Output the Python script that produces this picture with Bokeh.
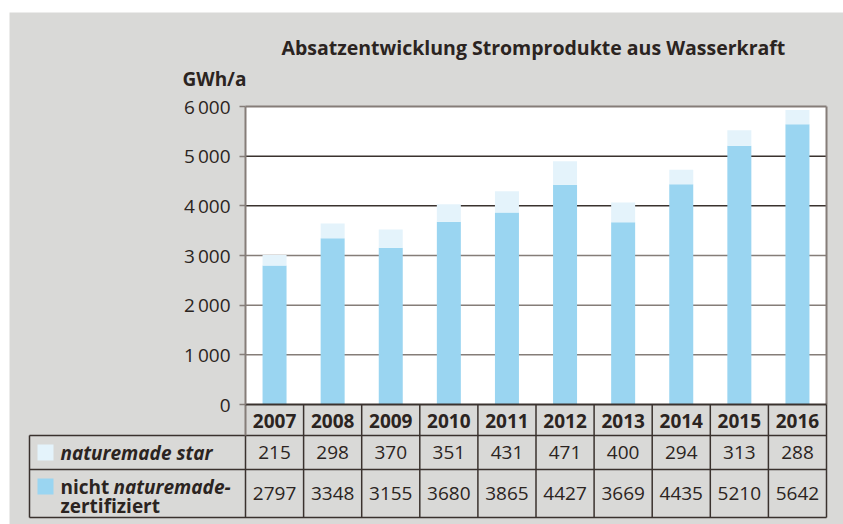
from bokeh.plotting import figure
from bokeh.models import (ColumnDataSource, Range1d, FixedTicker, LinearAxis, Label, Spacer)
from bokeh.layouts import column, row
from bokeh.core.properties import value
from bokeh.embed import file_html
from bokeh.resources import INLINE

# ---------------- data ----------------
years = ["2007", "2008", "2009", "2010", "2011", "2012", "2013", "2014", "2015", "2016"]
star = [215, 298, 370, 351, 431, 471, 400, 294, 313, 288]
nicht = [2797, 3348, 3155, 3680, 3865, 4427, 3669, 4435, 5210, 5642]
y_ticks = [0, 1000, 2000, 3000, 4000, 5000, 6000]
title_text = "Absatzentwicklung Stromprodukte aus Wasserkraft"
unit_text = "GWh/a"
legend_star = "naturemade star"
legend_nicht_1a = "nicht "
legend_nicht_1b = "naturemade-"
legend_nicht_2 = "zertifiziert"

# ---------------- style ----------------
FONT = "Open Sans"
FS = "19px"
BG = "#d9d9d7"
TXT = "#2b2421"
DARK = "#3a322e"
GRAYL = "#857d78"
C_NICHT = "#9ad5f1"
C_STAR = "#e4f3fb"

def fmt(v):
    return f"{v:,}".replace(",", "\u2009")

n = len(years)
idx = list(range(n))

# layout geometry (page pixels)
PL, PT, PR, PB = 9, 12, 843, 524          # grey panel
AX_L, AX_R, AX_T, AX_0 = 245, 826, 106, 404  # plot area
COLW = (AX_R - AX_L) / n
YMAX = y_ticks[-1]

def px_x(X):
    return -0.5 + (X - AX_L) / COLW

def px_y(Y):
    return (AX_0 - Y) * YMAX / (AX_0 - AX_T)

p = figure(width=PR - PL, height=PB - PT, output_backend="svg", toolbar_location=None,
           x_range=Range1d(px_x(PL), px_x(PR)), y_range=Range1d(px_y(PB), px_y(PT)),
           x_axis_location=None, y_axis_location=None,
           min_border_left=0, min_border_right=0, min_border_top=0, min_border_bottom=0)
p.background_fill_color = BG
p.border_fill_color = BG
p.outline_line_color = None
p.grid.visible = False

left, right = -0.5, n - 0.5

# white plot area
p.quad(left=[left], right=[right], bottom=[0], top=[YMAX], color="white", line_color=None)

# grid lines
gt = [v for v in y_ticks if 0 < v < YMAX]
gcol = [DARK if v >= 4000 else GRAYL for v in gt]
p.segment(x0=[left] * len(gt), x1=[right] * len(gt), y0=gt, y1=gt, line_color=gcol, line_width=1.5)

# bars
src = ColumnDataSource(dict(x=idx, nicht=nicht, star=star))
p.vbar_stack(["nicht", "star"], x="x", width=24 / COLW, color=[C_NICHT, C_STAR],
             line_color=None, source=src)

# frame borders (top, right)
p.segment(x0=[left], x1=[right], y0=[YMAX], y1=[YMAX], line_color=GRAYL, line_width=2)
p.segment(x0=[right], x1=[right], y0=[0], y1=[YMAX], line_color=GRAYL, line_width=2)

# y axis
ax = LinearAxis(fixed_location=left, bounds=(0, YMAX), ticker=FixedTicker(ticks=y_ticks))
ax.major_label_overrides = {t: fmt(t) for t in y_ticks}
ax.axis_line_color = GRAYL
ax.axis_line_width = 2
ax.major_tick_line_color = GRAYL
ax.major_tick_line_width = 1.5
ax.major_tick_out = 6
ax.major_tick_in = 0
ax.minor_tick_line_color = None
ax.major_label_standoff = 9
ax.major_label_text_font = FONT
ax.major_label_text_font_size = FS
ax.major_label_text_color = TXT
p.add_layout(ax, "left")

# title and unit
p.add_layout(Label(x=px_x(281), y=px_y(47), text=title_text, text_font=FONT,
                   text_font_style="bold", text_font_size="19.5px", text_color=TXT,
                   text_baseline="alphabetic"))
p.add_layout(Label(x=px_x(182), y=px_y(78), text=unit_text, text_font=FONT,
                   text_font_style="bold", text_font_size=FS, text_color=TXT,
                   text_baseline="alphabetic"))

# ---------------- table ----------------
tab_left = px_x(29)
r1, r2, r3 = px_y(435), px_y(469), px_y(517)

p.segment(x0=[tab_left] * 3, x1=[right] * 3, y0=[r1, r2, r3], y1=[r1, r2, r3],
          line_color=DARK, line_width=1.5)
vx = [i - 0.5 for i in range(1, n + 1)]
p.segment(x0=vx, x1=vx, y0=[0] * len(vx), y1=[r3] * len(vx), line_color=DARK, line_width=1.5)
p.segment(x0=[left, tab_left], x1=[left, tab_left], y0=[r1, r1], y1=[r3, r3],
          line_color=DARK, line_width=1.5)
p.segment(x0=[left], x1=[left], y0=[0], y1=[r1], line_color=GRAYL, line_width=2)
# zero line
p.segment(x0=[left], x1=[right], y0=[0], y1=[0], line_color=DARK, line_width=2)

txt = dict(text_font=value(FONT), text_font_size=FS, text_color=TXT,
           text_align="center", text_baseline="middle")
p.text(x=idx, y=[px_y(420)] * n, text=years, text_font_style="bold", **txt)
p.text(x=idx, y=[px_y(452)] * n, text=[str(v) for v in star], **txt)
p.text(x=idx, y=[px_y(493)] * n, text=[str(v) for v in nicht], **txt)

# legend swatches and labels
sw_x = px_x(45)
p.rect(x=[sw_x, sw_x], y=[px_y(452), px_y(486)], width=16, height=16, width_units="screen",
       height_units="screen", color=[C_STAR, C_NICHT], line_color=None)
ltxt = dict(text_font=value(FONT), text_font_size=FS, text_color=TXT,
            text_align="left", text_baseline="middle")
p.text(x=[px_x(60)], y=[px_y(452)], text=[legend_star], text_font_style="bold italic", **ltxt)
p.text(x=[px_x(60)], y=[px_y(486)], text=[legend_nicht_1a], text_font_style="bold", **ltxt)
p.text(x=[px_x(113)], y=[px_y(486)], text=[legend_nicht_1b], text_font_style="bold italic", **ltxt)
p.text(x=[px_x(60)], y=[px_y(505)], text=[legend_nicht_2], text_font_style="bold", **ltxt)

layout = column(Spacer(height=PT), row(Spacer(width=PL), p))
open("out.html", "w").write(file_html(layout, INLINE))
